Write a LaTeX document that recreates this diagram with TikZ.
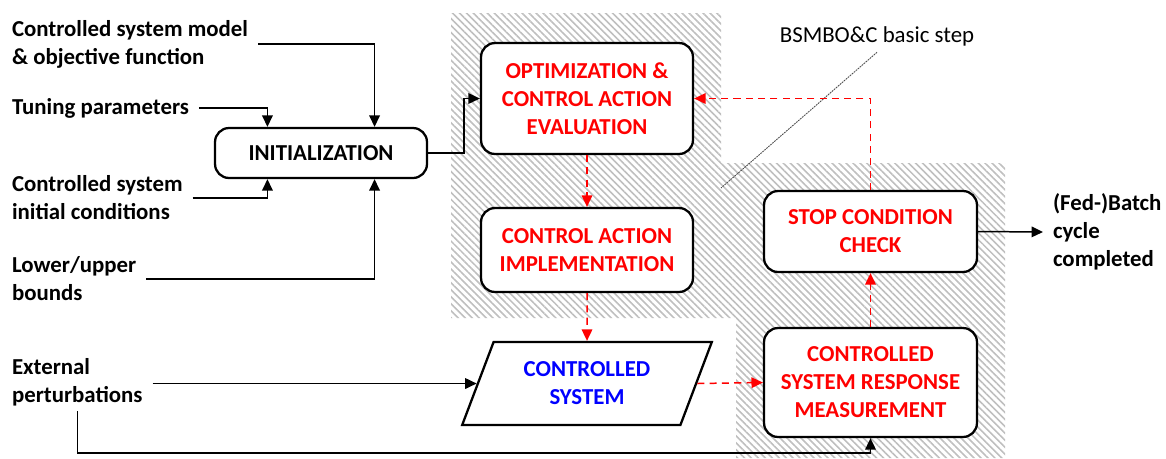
\documentclass[tikz,border=0pt]{standalone}
\usepackage{fontspec}
\setmainfont{Carlito}
\usetikzlibrary{arrows.meta,positioning,shapes.geometric,patterns.meta,calc}

\begin{document}
\begin{tikzpicture}[x=0.02cm, y=-0.02cm, font=\fontsize{13}{15.9}\selectfont\bfseries, >={Triangle[length=6.5pt,width=6pt]}]
\tikzset{
  box/.style={rectangle, rounded corners=8pt, draw, line width=1.3pt, fill=white, align=center, text=red, minimum width=4.24cm},
  io/.style ={trapezium, trapezium left angle=67, trapezium right angle=113, trapezium stretches=true, draw, line width=1.3pt, fill=white, align=center, text=blue, minimum width=5cm, minimum height=1.66cm},
  lbl/.style={align=left, inner xsep=5.5pt, inner ysep=0pt},
  sig/.style={->, line width=0.85pt},
  ctrl/.style={->, red, line width=0.85pt, dash pattern=on 4pt off 3pt}
}
\useasboundingbox (0,0) rectangle (1166,458);
% basic step area
\fill[pattern={Lines[angle=-45,distance=2.8pt,line width=0.9pt]}, pattern color=gray!50]
  (451,13) -- (721,13) -- (721,163) -- (1005,163) -- (1005,458) -- (736,458) -- (736,318) -- (451,318) -- cycle;
\node[font=\fontsize{13}{15.9}\selectfont, anchor=south, inner sep=0pt] (steplbl) at (877,47) {BSMBO\&C basic step};
\coordinate (stepend) at (721,188);
\draw[gray!60!black, line width=0.5pt, dash pattern=on 1pt off 0.5pt] ([yshift=-3pt]steplbl.south) -- (stepend);

\node[box, text=black, minimum height=1cm] (init) at (321,153) {INITIALIZATION};
\node[box, minimum height=2.22cm] (opt)  at (587,98.5) {OPTIMIZATION \&\\ CONTROL ACTION\\ EVALUATION};
\node[box, minimum height=1.68cm] (impl) at (587,250) {CONTROL ACTION\\ IMPLEMENTATION};
\node[io] (sys) at (587,383.5) {CONTROLLED\\ SYSTEM};
\node[box, minimum width=4.26cm, minimum height=1.62cm] (stop) at (870.5,231.5) {STOP CONDITION\\ CHECK};
\node[box, minimum width=4.26cm, minimum height=2.18cm] (meas) at (870.5,382.5) {CONTROLLED\\ SYSTEM RESPONSE\\ MEASUREMENT};

\node[lbl, anchor=west] (model)  at (2,44)  {Controlled system model\\ \& objective function};
\node[lbl, anchor=west] (tune)   at (2,108) {Tuning parameters};
\node[lbl, anchor=west] (initc)  at (2,198) {Controlled system\\ initial conditions};
\node[lbl, anchor=west] (bounds) at (2,279) {Lower/upper\\ bounds};
\node[lbl, anchor=west] (ext)    at (2,382) {External\\ perturbations};
\node[lbl, anchor=west] (batch)  at (1043,232) {(Fed-)Batch\\ cycle\\ completed};

\draw[sig] (model.east) -| ($(init.north west)!0.75!(init.north east)$);
\draw[sig] (tune.east) -| ($(init.north west)!0.25!(init.north east)$);
\draw[sig] (initc.east) -| ($(init.south west)!0.25!(init.south east)$);
\draw[sig] (bounds.east) -| ($(init.south west)!0.75!(init.south east)$);
\draw[sig] (init.east) -- ++(36,0) |- (opt.west);
\draw[sig] (ext.east |- sys.west) -- (sys.west);
\draw[sig] ([yshift=-3pt]ext.south) |- ($(meas.south)+(0,15)$) -- (meas.south);
\draw[sig] (stop.east) -- (batch.west);

\draw[ctrl] (opt.south) -- (impl.north);
\draw[ctrl] (impl.south) -- (sys.north);
\draw[ctrl] (sys.east) -- (meas.west);
\draw[ctrl] (meas.north) -- (stop.south);
\draw[ctrl] (stop.north) |- (opt.east);
\end{tikzpicture}
\end{document}
